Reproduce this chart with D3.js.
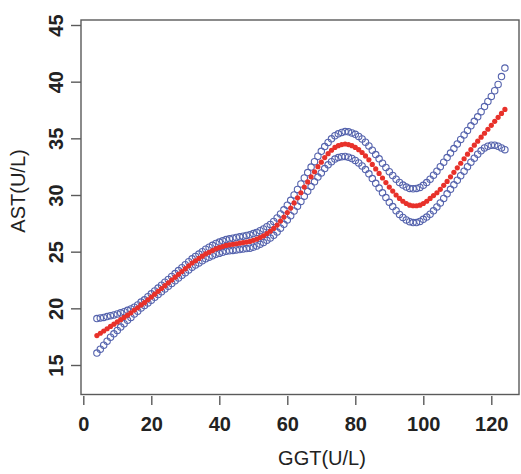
<!DOCTYPE html>
<html><head><meta charset="utf-8">
<script src="https://cdn.jsdelivr.net/npm/d3@7"></script>
<style>body{margin:0;background:#fff}svg{display:block}</style>
</head><body>
<script>
const ggt = d3.range(4, 125); // GGT values 4..124
const fit = [17.6,17.8,18.0,18.2,18.4,18.6,18.8,19.0,19.2,19.4,19.6,19.85,20.05,20.3,20.5,20.75,21.0,21.25,21.5,21.75,22.0,22.25,22.5,22.75,23.0,23.25,23.5,23.75,24.0,24.2,24.4,24.6,24.8,24.95,25.1,25.25,25.35,25.45,25.55,25.6,25.65,25.7,25.75,25.8,25.85,25.9,26.0,26.1,26.25,26.4,26.6,26.8,27.05,27.35,27.7,28.05,28.45,28.85,29.3,29.75,30.2,30.7,31.15,31.6,32.05,32.5,32.9,33.3,33.65,33.95,34.2,34.35,34.45,34.5,34.45,34.35,34.2,34.0,33.75,33.45,33.1,32.7,32.3,31.9,31.5,31.1,30.7,30.35,30.0,29.7,29.45,29.25,29.1,29.05,29.05,29.1,29.25,29.45,29.7,29.95,30.2,30.5,30.85,31.2,31.6,32.0,32.4,32.8,33.2,33.6,34.0,34.4,34.75,35.1,35.45,35.8,36.15,36.5,36.85,37.2,37.55];
const upper = [19.1,19.15,19.2,19.27,19.35,19.42,19.5,19.6,19.7,19.82,19.95,20.1,20.3,20.55,20.75,21.02,21.28,21.53,21.79,22.04,22.3,22.55,22.81,23.07,23.33,23.59,23.85,24.11,24.37,24.58,24.79,25.0,25.22,25.39,25.56,25.73,25.85,25.96,26.07,26.13,26.19,26.25,26.31,26.37,26.43,26.49,26.6,26.7,26.85,27.0,27.2,27.4,27.66,27.97,28.33,28.69,29.1,29.53,30.01,30.49,30.97,31.5,31.98,32.46,32.94,33.42,33.85,34.27,34.64,34.96,35.23,35.4,35.52,35.6,35.57,35.48,35.35,35.17,34.94,34.66,34.33,33.95,33.57,33.19,32.81,32.43,32.05,31.72,31.39,31.11,30.88,30.7,30.58,30.55,30.58,30.67,30.85,31.1,31.4,31.75,32.1,32.5,32.9,33.3,33.7,34.1,34.5,34.9,35.3,35.7,36.1,36.5,36.9,37.35,37.8,38.25,38.7,39.2,39.75,40.45,41.2];
const lower = [16.05,16.4,16.75,17.1,17.45,17.75,18.05,18.35,18.65,18.95,19.2,19.5,19.75,20.03,20.25,20.48,20.72,20.97,21.21,21.46,21.7,21.95,22.19,22.43,22.67,22.91,23.15,23.39,23.63,23.82,24.01,24.2,24.38,24.51,24.64,24.77,24.85,24.94,25.03,25.07,25.11,25.15,25.19,25.23,25.27,25.31,25.4,25.5,25.65,25.8,26.0,26.2,26.44,26.73,27.07,27.41,27.8,28.17,28.59,29.01,29.43,29.9,30.32,30.74,31.16,31.58,31.95,32.33,32.66,32.94,33.17,33.3,33.38,33.4,33.33,33.22,33.05,32.83,32.56,32.24,31.87,31.45,31.03,30.61,30.19,29.77,29.35,28.98,28.61,28.29,28.02,27.8,27.65,27.57,27.57,27.67,27.85,28.05,28.3,28.6,28.95,29.3,29.7,30.1,30.5,30.9,31.3,31.7,32.1,32.5,32.9,33.25,33.6,33.9,34.15,34.3,34.4,34.4,34.3,34.15,34.0];
const xTicks = [0,20,40,60,80,100,120];
const yTicks = [15,20,25,30,35,40,45];
const xTitle = "GGT(U/L)";
const yTitle = "AST(U/L)";

const W = 521, H = 474;
const svg = d3.select("body").append("svg").attr("width", W).attr("height", H);
const x = d3.scaleLinear().domain([0,120]).range([83.3,491.3]);
const y = d3.scaleLinear().domain([15,45]).range([365,25]);
const axisColor = "#5a5a5a";
const font = "'Liberation Sans', Arial, sans-serif";

// box
svg.append("rect").attr("x",81).attr("y",20).attr("width",438).attr("height",374.5)
  .attr("fill","none").attr("stroke",axisColor).attr("stroke-width",1.4);

// x axis
const xa = svg.append("g").attr("transform","translate(0,396)")
  .call(d3.axisBottom(x).tickValues(xTicks).tickSize(9).tickSizeOuter(0).tickPadding(6));
xa.select(".domain").remove();
xa.selectAll(".tick line").attr("stroke",axisColor).attr("stroke-width",1.4);
xa.selectAll(".tick text").attr("font-family",font).attr("font-weight","bold")
  .attr("font-size",20).attr("fill","#222").attr("y",null).attr("dy",null)
  .attr("transform","translate(0,35)");

// y axis
const ya = svg.append("g").attr("transform","translate(81,0)")
  .call(d3.axisLeft(y).tickValues(yTicks).tickSize(10).tickSizeOuter(0));
ya.select(".domain").remove();
ya.selectAll(".tick line").attr("stroke",axisColor).attr("stroke-width",1.4);
ya.selectAll(".tick text").attr("font-family",font).attr("font-weight","bold")
  .attr("font-size",20).attr("fill","#222").attr("x",null).attr("dy",null)
  .attr("text-anchor","middle").attr("transform","translate(-18,0) rotate(-90)");

// titles
svg.append("text").attr("x",322).attr("y",465).attr("text-anchor","middle")
  .attr("font-family",font).attr("font-size",20).attr("fill","#222").text(xTitle);
svg.append("text").attr("transform","translate(25,191) rotate(-90)").attr("text-anchor","middle")
  .attr("font-family",font).attr("font-size",20).attr("fill","#222").text(yTitle);

const blue = "#5563ad", red = "#e8312a";
const g = svg.append("g");
[lower, upper].forEach(arr => {
  g.selectAll(null).data(ggt).enter().append("circle")
    .attr("cx", (d) => x(d)).attr("cy", (d,i) => y(arr[i])).attr("r",3.2)
    .attr("fill","none").attr("stroke",blue).attr("stroke-width",1.1);
});
g.selectAll(null).data(ggt).enter().append("circle")
  .attr("cx", d => x(d)).attr("cy", (d,i) => y(fit[i])).attr("r",2.6)
  .attr("fill",red);
</script>
</body></html>
